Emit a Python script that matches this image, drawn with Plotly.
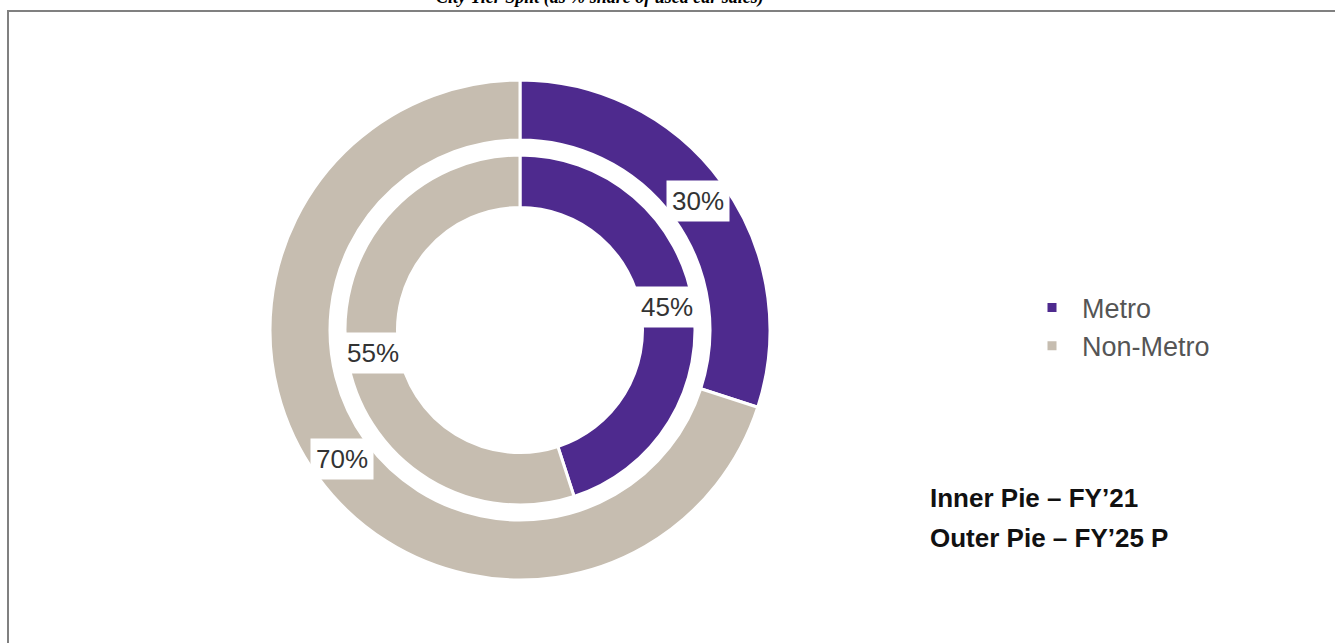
import math
import plotly.graph_objects as go

# ---- data ----
categories = ["Metro", "Non-Metro"]
inner_fy21 = [45, 55]      # Inner Pie – FY'21
outer_fy25p = [30, 70]     # Outer Pie – FY'25 P
title_text = "City Tier Split (as % share of used car sales)"
note_lines = ["Inner Pie \u2013 FY\u201921", "Outer Pie \u2013 FY\u201925 P"]

# ---- style ----
W, H = 1335, 643
colors = ["#4E2A8E", "#C6BDB0"]
CX, CY = 520, 330
R_OUT, R_IN = 250, 175
HOLE_OUT, HOLE_IN = 0.76, 0.70
LABEL_FONT = dict(family="Liberation Sans, Arial", size=26, color="#333333")


def dom(r):
    return dict(x=[(CX - r) / W, (CX + r) / W],
                y=[(H - CY - r) / H, (H - CY + r) / H])


def ring_labels(vals, radius, hole):
    """Percent labels at the middle of each slice, on the middle of the ring."""
    total = sum(vals)
    r_mid = radius * (1 + hole) / 2
    out, cum = [], 0
    for v in vals:
        theta = math.radians(360 * (cum + v / 2) / total)
        cum += v
        px = CX + r_mid * math.sin(theta)
        py = CY - r_mid * math.cos(theta)
        out.append(dict(text=f"{v}%", x=px / W, y=1 - py / H, xref="paper", yref="paper",
                        xanchor="center", yanchor="middle", showarrow=False,
                        bgcolor="white", borderpad=5, font=LABEL_FONT))
    return out


fig = go.Figure()
for vals, r, hole, show, name in [(outer_fy25p, R_OUT, HOLE_OUT, True, "FY'25 P"),
                                  (inner_fy21, R_IN, HOLE_IN, False, "FY'21")]:
    fig.add_trace(go.Pie(
        labels=categories, values=vals, textinfo="none",
        hole=hole, sort=False, direction="clockwise", rotation=0,
        marker=dict(colors=colors, line=dict(color="white", width=3)),
        domain=dom(r), showlegend=show, name=name,
    ))

annotations = ring_labels(outer_fy25p, R_OUT, HOLE_OUT) + ring_labels(inner_fy21, R_IN, HOLE_IN)
annotations += [
    dict(text=f"<b><i>{title_text}</i></b>", x=600 / W, y=1 - 10 / H,
         xref="paper", yref="paper", xanchor="center", yanchor="bottom",
         showarrow=False, font=dict(family="Liberation Serif, Times New Roman", size=18, color="black")),
    dict(text=f"<b>{note_lines[0]}</b>", x=928 / W, y=1 - 498 / H,
         xref="paper", yref="paper", xanchor="left", yanchor="middle",
         showarrow=False, font=dict(family="Liberation Sans, Arial", size=26, color="#111111")),
    dict(text=f"<b>{note_lines[1]}</b>", x=928 / W, y=1 - 538 / H,
         xref="paper", yref="paper", xanchor="left", yanchor="middle",
         showarrow=False, font=dict(family="Liberation Sans, Arial", size=26, color="#111111")),
]

fig.update_layout(
    width=W, height=H, margin=dict(l=0, r=0, t=0, b=0),
    paper_bgcolor="white", plot_bgcolor="white",
    legend=dict(x=1022 / W, y=1 - 327 / H, xanchor="left", yanchor="middle",
                itemwidth=50,
                font=dict(family="Liberation Sans, Arial", size=27, color="#555555"),
                bgcolor="rgba(0,0,0,0)"),
    shapes=[dict(type="rect", xref="paper", yref="paper",
                 x0=8 / W, x1=1.05, y0=-0.05, y1=1 - 11 / H,
                 line=dict(color="#808080", width=2), fillcolor="rgba(0,0,0,0)")],
    annotations=annotations,
)

fig.write_html("out.html")
